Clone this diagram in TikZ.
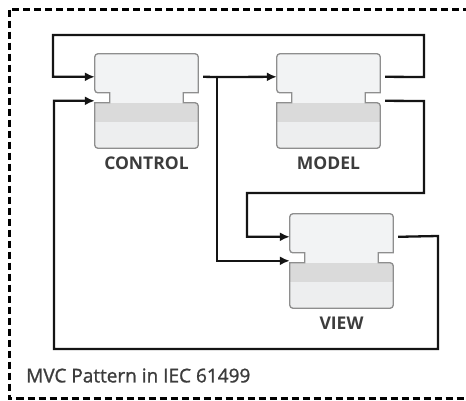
\documentclass[tikz,border=0pt]{standalone}
\usepackage{fontspec}
\setmainfont{Open Sans}
\newfontfamily\capfont[FakeBold=1.2]{Open Sans}
\usetikzlibrary{arrows.meta,calc}
\definecolor{fbfill}{HTML}{F2F3F4}
\definecolor{fblow}{HTML}{EDEEEF}
\definecolor{fbband}{HTML}{DADADA}
\definecolor{fbedge}{HTML}{8E8E8E}
\definecolor{txt}{HTML}{3C3C3C}
\tikzset{
  fbbox/.style={draw=none, minimum width=103pt, minimum height=94pt, inner sep=0pt},
  fblabel/.style={font=\bfseries\fontsize{17.5}{19}\selectfont, text=txt, inner sep=0pt},
  wire/.style={line width=2.3pt, draw=black!92, line join=miter},
  arr/.style={wire, -{Latex[length=10pt,width=9pt]}},
  frame/.style={line width=3.3pt, dash pattern=on 7pt off 4pt, draw=black},
}
% #1 name, #2 x, #3 y (top-left), #4 label
\newcommand{\fbblock}[4]{%
  \node[fbbox] (#1) at ({#2+51.5},{#3+47}) {};
  \fill[fbfill, rounded corners=3pt] (#1.north west) rectangle (#1.south east);
  \fill[fblow, rounded corners=3pt] ($(#1.north west)+(0,68)$) rectangle (#1.south east);
  \fill[fbband] ($(#1.north west)+(0,49)$) rectangle ($(#1.north east)+(0,68)$);
  \fill[white] ($(#1.north west)+(-1,39)$) rectangle ($(#1.north west)+(15,49)$);
  \fill[white] ($(#1.north east)+(1,39)$) rectangle ($(#1.north east)+(-15,49)$);
  \draw[fbedge, line width=1.3pt, rounded corners=3pt]
    ($(#1.north west)+(0,39)$) [sharp corners] -- ($(#1.north west)+(15,39)$) -- ($(#1.north west)+(15,49)$) -- ($(#1.north west)+(0,49)$) [rounded corners=3pt]
    -- (#1.south west) -- (#1.south east) -- ($(#1.north east)+(0,49)$) [sharp corners]
    -- ($(#1.north east)+(-15,49)$) -- ($(#1.north east)+(-15,39)$) -- ($(#1.north east)+(0,39)$) [rounded corners=3pt]
    -- (#1.north east) -- (#1.north west) -- cycle;
  \coordinate (#1-ei) at ($(#1.north west)+(0,23)$);
  \coordinate (#1-di) at ($(#1.north west)+(0,47)$);
  \coordinate (#1-eo) at ($(#1.north east)+(5,23)$);
  \coordinate (#1-do) at ($(#1.north east)+(5,47)$);
  \node[fblabel] (#1-lbl) at ($(#1.south)+(0,15.5)$) {#4};
}
\begin{document}
\begin{tikzpicture}[x=1pt,y=-1pt]
\useasboundingbox (0,0) rectangle (466,400);
\clip (0,0) rectangle (466,400);
\fill[white] (0,0) rectangle (466,400);
\draw[frame] (9.5,9.5) rectangle (472,398.5);

\fbblock{ctrl}{95}{54}{CONTROL}
\fbblock{model}{277}{54}{MODEL}
\fbblock{view}{290}{214}{VIEW}

\coordinate (br) at (217,77);
\draw[wire] (ctrl-eo) -- (br);
\draw[arr] (br) -- (model-ei);
\draw[arr] (br) |- (view-di);

\draw[arr] (model-eo) -- (424,77) -- (424,35) -- (53,35) |- (ctrl-ei);
\draw[arr] (model-do) -- (424,101) -- (424,193) -- (247,193) |- (view-ei);
\draw[arr] (view-eo) -- (438,236) -- (438,349) -- (54,349) |- (ctrl-di);

\node[anchor=west, text=txt, font=\capfont\fontsize{19}{21}\selectfont, inner sep=0pt] (cap) at (26,375.5) {MVC Pattern in IEC 61499};
\end{tikzpicture}
\end{document}
